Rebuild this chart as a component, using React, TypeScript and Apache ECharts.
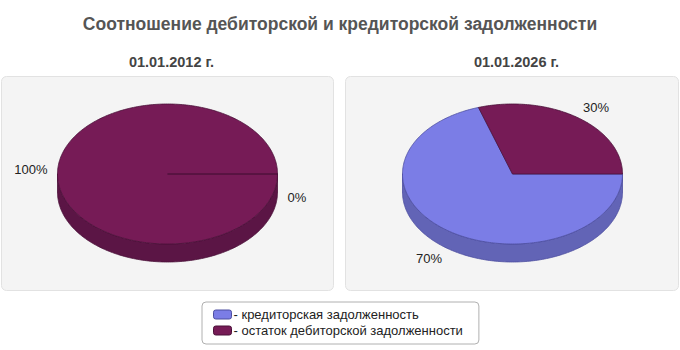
import React, { useEffect, useRef } from "react";
import * as echarts from "echarts";

const TITLE = "Соотношение дебиторской и кредиторской задолженности";
const DATES = ["01.01.2012 г.", "01.01.2026 г."];
const SERIES_NAMES = ["кредиторская задолженность", "остаток дебиторской задолженности"];
const CREDITOR = [0, 70];
const DEBTOR_REST = [100, 30];
const VALUES = [CREDITOR, DEBTOR_REST];

const TOP_COLORS = ["#7b7de6", "#761b56"];
const SIDE_COLORS = ["#6264b6", "#5b1545"];
const EDGE_COLORS = ["#4c4ea0", "#4a1038"];

const CENTERS = [
  [167.5, 174],
  [512.5, 174],
];
const RX = 110;
const RY = 70;
const DEPTH = 18;
const LX = 120;
const LY = 82;
const FONT = "'Liberation Sans', Arial, sans-serif";

function ellPt(cx: number, cy: number, deg: number, dy = 0) {
  const r = (deg * Math.PI) / 180;
  return [cx + RX * Math.cos(r), cy - RY * Math.sin(r) + dy];
}

function arcPts(cx: number, cy: number, from: number, to: number, dy = 0) {
  const pts: number[][] = [];
  const n = Math.max(1, Math.ceil(Math.abs(to - from)));
  for (let k = 0; k <= n; k++) {
    pts.push(ellPt(cx, cy, from + ((to - from) * k) / n, dy));
  }
  return pts;
}

function makeRenderItem(s: number) {
  return (params: any) => {
    const i = params.dataIndex;
    const vals = VALUES.map((arr) => arr[i]);
    const total = vals.reduce((a, b) => a + b, 0);
    let prior = 0;
    for (let k = 0; k < s; k++) prior += vals[k];
    const v = vals[s];
    const a = (-prior / total) * 360;
    const b = (-(prior + v) / total) * 360;
    const [cx, cy] = CENTERS[i];
    const children: any[] = [];

    // side walls (front half only)
    for (let k = -2; k <= 1; k++) {
      const lo = Math.max(b, -180 + 360 * k);
      const hi = Math.min(a, 360 * k);
      if (hi > lo) {
        const top = arcPts(cx, cy, lo, hi);
        const bot = arcPts(cx, cy, hi, lo, DEPTH);
        children.push({
          type: "polygon",
          z2: 1,
          shape: { points: top.concat(bot) },
          style: { fill: SIDE_COLORS[s], stroke: EDGE_COLORS[s], lineWidth: 0.8 },
        });
      }
    }

    // top face
    const topPts = [[cx, cy]].concat(arcPts(cx, cy, a, b));
    children.push({
      type: "polygon",
      z2: 2,
      shape: { points: topPts },
      style: { fill: TOP_COLORS[s], stroke: EDGE_COLORS[s], lineWidth: 0.8 },
    });

    // label
    const mid = ((a + b) / 2) * (Math.PI / 180);
    const c = Math.cos(mid);
    const sn = Math.sin(mid);
    const below = sn < -1e-9 || (Math.abs(sn) < 1e-9 && c > 0);
    const lx = cx + c * LX;
    let ly = cy - sn * LY + (below ? DEPTH : 0);
    if (Math.abs(sn) < 1e-9) ly += below ? 5 : -5;
    const pct = Math.round((v / total) * 100);
    children.push({
      type: "text",
      z2: 3,
      x: lx,
      y: ly,
      style: {
        text: pct + "%",
        fill: "#222",
        font: "13px " + FONT,
        align: c > 0.01 ? "left" : c < -0.01 ? "right" : "center",
        verticalAlign: "middle",
      },
    });

    return { type: "group", children };
  };
}

export default function App() {
  const ref = useRef<HTMLDivElement>(null);
  useEffect(() => {
    document.body.style.margin = "0";
    const chart = echarts.init(ref.current!, null, { renderer: "svg" });
    chart.setOption({
      animation: false,
      backgroundColor: "#ffffff",
      title: [
        {
          text: TITLE,
          left: "center",
          top: 10,
          textStyle: { fontSize: 17.5, fontWeight: "bold", color: "#555", fontFamily: FONT },
        },
        {
          text: DATES[0],
          left: CENTERS[0][0] - 1,
          textAlign: "center",
          top: 49,
          textStyle: { fontSize: 14.5, fontWeight: "bold", color: "#444", fontFamily: FONT },
        },
        {
          text: DATES[1],
          left: CENTERS[1][0] - 1,
          textAlign: "center",
          top: 49,
          textStyle: { fontSize: 14.5, fontWeight: "bold", color: "#444", fontFamily: FONT },
        },
      ],
      graphic: [
        {
          type: "rect",
          z: -10,
          shape: { x: 1.5, y: 76.5, width: 332, height: 214, r: 5 },
          style: { fill: "#f4f4f4", stroke: "#e2e2e2", lineWidth: 1 },
        },
        {
          type: "rect",
          z: -10,
          shape: { x: 345.5, y: 76.5, width: 333, height: 214, r: 5 },
          style: { fill: "#f4f4f4", stroke: "#e2e2e2", lineWidth: 1 },
        },
      ],
      legend: {
        orient: "vertical",
        left: 202,
        top: 302,
        padding: [6, 16, 7, 11],
        itemWidth: 18,
        itemHeight: 9,
        itemGap: 3,
        icon: "roundRect",
        backgroundColor: "#ffffff",
        borderColor: "#b0b0b0",
        borderWidth: 1,
        borderRadius: 4,
        selectedMode: false,
        formatter: "- {name}",
        textStyle: { fontSize: 13, color: "#222", fontFamily: FONT, padding: [0, 0, 0, -3] },
        data: SERIES_NAMES.map((n, s) => ({
          name: n,
          itemStyle: { color: TOP_COLORS[s], borderColor: EDGE_COLORS[s], borderWidth: 1 },
        })),
      },
      series: SERIES_NAMES.map((name, s) => ({
        type: "custom",
        name,
        coordinateSystem: "none",
        itemStyle: { color: TOP_COLORS[s] },
        data: VALUES[s].map((v) => [v]),
        renderItem: makeRenderItem(s),
      })),
    });
    return () => chart.dispose();
  }, []);
  return <div ref={ref} style={{ width: 680, height: 350 }} />;
}
